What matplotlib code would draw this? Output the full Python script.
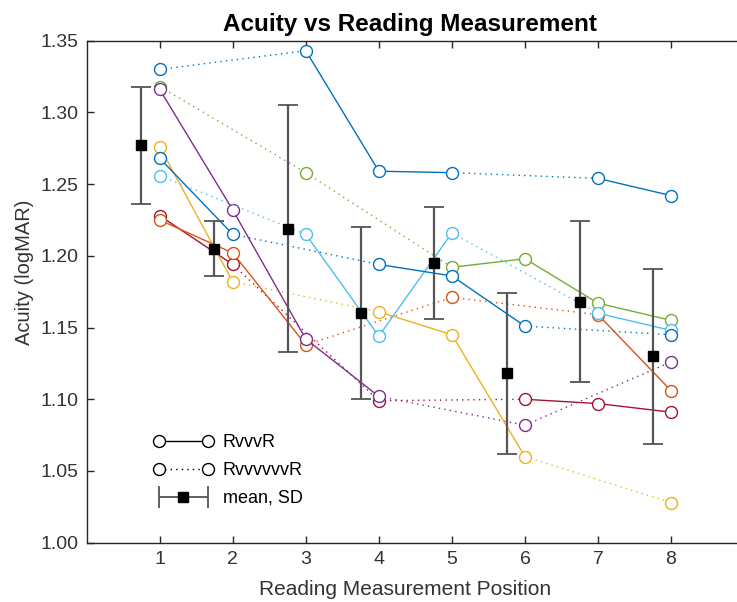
# Imports
import numpy as np
import matplotlib
matplotlib.use('Agg')
import matplotlib.pyplot as plt
from matplotlib.lines import Line2D
from matplotlib.container import ErrorbarContainer
from matplotlib.legend_handler import HandlerErrorbar

nan = np.nan

# Reading measurement positions
positions = [1, 2, 3, 4, 5, 6, 7, 8]

# Acuity per subject (logMAR), nan = no measurement at that position
blue_a = [1.330, nan, 1.343, 1.259, 1.258, nan, 1.254, 1.242]
blue_b = [1.268, 1.215, nan, 1.194, 1.186, 1.151, nan, 1.145]
purple = [1.316, 1.232, 1.142, 1.102, nan, 1.082, nan, 1.126]
green = [1.318, nan, 1.258, nan, 1.192, 1.198, 1.167, 1.155]
yellow = [1.276, 1.182, nan, 1.161, 1.145, 1.060, nan, 1.028]
light_blue = [1.256, nan, 1.215, 1.144, 1.216, nan, 1.160, 1.148]
orange = [1.225, 1.202, 1.138, nan, 1.171, nan, 1.159, 1.106]
dark_red = [1.228, 1.194, nan, 1.099, nan, 1.100, 1.097, 1.091]

# Mean and SD at each position
mean_vals = [1.277, 1.205, 1.219, 1.160, 1.195, 1.118, 1.168, 1.130]
sd_vals = [0.041, 0.019, 0.086, 0.060, 0.039, 0.056, 0.056, 0.061]

y_ticks = [1.00, 1.05, 1.10, 1.15, 1.20, 1.25, 1.30, 1.35]

# drawing order, last on top
series = [
    (dark_red, '#A2142F'),
    (orange, '#D95319'),
    (green, '#77AC30'),
    (purple, '#7E2F8E'),
    (yellow, '#EDB120'),
    (light_blue, '#4DBEEE'),
    (blue_b, '#0072BD'),
    (blue_a, '#0072BD'),
]

plt.rcParams['font.family'] = ['Liberation Sans', 'DejaVu Sans']

fig = plt.figure(figsize=(7.37, 6.02), dpi=100)
ax = fig.add_axes([86.65 / 737, 59.3 / 602, 657.45 / 737, 502 / 602])

dotted = (0, (1, 3))
z = 2
for vals, col in series:
    vals = np.array(vals, dtype=float)
    pos = np.array(positions, dtype=float)
    ok = np.where(~np.isnan(vals))[0]
    # solid between neighbours, dotted across a gap
    for i, j in zip(ok[:-1], ok[1:]):
        ls = '-' if j - i == 1 else dotted
        ax.plot(pos[[i, j]], vals[[i, j]], color=col, lw=1.0, ls=ls, zorder=z)
    ax.plot(pos[ok], vals[ok], ls='none', marker='o', ms=8.6, mfc='white',
            mec=col, mew=1.0, zorder=z + 0.5)
    z += 1

# Mean and SD, shifted left of each position
err_col = '#555555'
mean_x = np.array(positions) - 0.25
ax.errorbar(mean_x, mean_vals, yerr=sd_vals, fmt='s', color='black', ms=7,
            ecolor=err_col, elinewidth=1.6, capsize=7.5, capthick=1.3, zorder=20)

# dummy with horizontal bar for the legend
eb_leg = ax.errorbar([nan], [nan], xerr=[[0.1], [0.1]], fmt='s', color='black', ms=6.5,
                     ecolor=err_col, elinewidth=1.3, capsize=8, capthick=1.3)

h1 = Line2D([0], [0], color='black', lw=1.0, ls='-', marker='o', ms=8.6, mfc='white', mec='black')
h2 = Line2D([0], [0], color='black', lw=1.0, ls=dotted, marker='o', ms=8.6, mfc='white', mec='black')
ax.legend([h1, h2, eb_leg], ['RvvvR', 'RvvvvvvR', 'mean, SD'], frameon=False,
          loc='center left', bbox_to_anchor=(0.0909, 0.1438), borderaxespad=0,
          numpoints=2, fontsize=13, handlelength=3.3, handletextpad=0.53,
          labelspacing=0.6,
          handler_map={ErrorbarContainer: HandlerErrorbar(xerr_size=1.36, numpoints=1)})

# Axes
ax.set_xlim(0, 9)
ax.set_ylim(1.0, 1.35)
ax.set_xticks(positions)
ax.set_yticks(y_ticks)
ax.set_yticklabels(['%.2f' % t for t in y_ticks])
axis_col = '#262626'
for s in ax.spines.values():
    s.set_color(axis_col)
    s.set_linewidth(1.0)
ax.tick_params(direction='in', length=5, width=1.0, colors=axis_col,
               labelsize=14, top=True, right=True, pad=6)
for lab in ax.get_xticklabels() + ax.get_yticklabels():
    lab.set_color('#333333')

ax.set_xlabel('Reading Measurement Position', fontsize=15, color='#333333')
ax.set_ylabel('Acuity (logMAR)', fontsize=14.5, color='#333333')
ax.xaxis.set_label_coords(0.485, -0.075)
ax.yaxis.set_label_coords(-0.080, 0.539)
ax.set_title('Acuity vs Reading Measurement', fontsize=17.5, fontweight='bold', x=0.492, pad=7)

fig.savefig('out.png', dpi=100)
